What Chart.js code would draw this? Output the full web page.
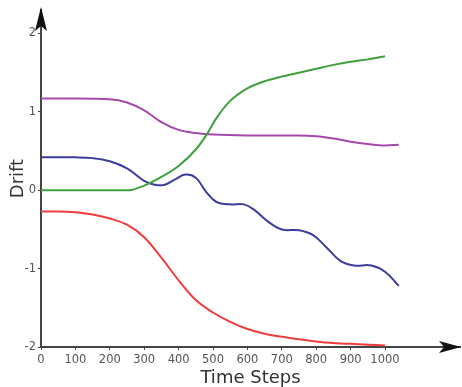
<!DOCTYPE html>
<html>
<head>
<meta charset="utf-8">
<script src="https://cdn.jsdelivr.net/npm/chart.js@4"></script>
<style>
html,body{margin:0;padding:0;background:#fff;}
#wrap{width:462px;height:387px;}
</style>
</head>
<body>
<div id="wrap"><canvas id="c" width="462" height="387"></canvas></div>
<script>
// ---- data ----
const xTicks = [0,100,200,300,400,500,600,700,800,900,1000];
const yTicks = [-2,-1,0,1,2];

const greenX = [0,100,200,255,300,350,400,450,480,510,550,600,650,700,750,800,850,900,950,1000];
const greenY = [0,0,0,0,0.06,0.17,0.31,0.52,0.70,0.92,1.14,1.30,1.39,1.45,1.50,1.55,1.60,1.64,1.67,1.71];

const purpleX = [0,100,200,250,300,350,400,450,500,600,700,750,800,850,900,950,1000,1040];
const purpleY = [1.17,1.17,1.16,1.12,1.02,0.87,0.77,0.73,0.71,0.70,0.70,0.70,0.69,0.66,0.62,0.59,0.57,0.58];

const blueX = [0,100,150,200,250,300,330,360,390,420,450,480,510,550,590,620,660,700,750,790,830,870,910,960,1000,1040];
const blueY = [0.42,0.42,0.41,0.37,0.28,0.12,0.07,0.07,0.14,0.20,0.16,-0.02,-0.15,-0.18,-0.18,-0.25,-0.40,-0.50,-0.51,-0.57,-0.73,-0.90,-0.96,-0.96,-1.04,-1.22];

const redX = [0,50,100,150,200,250,300,350,400,450,500,550,600,650,700,750,800,850,900,950,1000];
const redY = [-0.27,-0.27,-0.28,-0.31,-0.36,-0.44,-0.60,-0.86,-1.15,-1.40,-1.56,-1.68,-1.77,-1.83,-1.87,-1.90,-1.93,-1.95,-1.96,-1.97,-1.98];

function pts(xs, ys){ return xs.map((x,i)=>({x:x, y:ys[i]})); }

const axisColor = '#444';

const arrowPlugin = {
  id:'arrows',
  afterDraw(chart){
    const ctx = chart.ctx;
    const a = chart.chartArea;
    ctx.save();
    ctx.fillStyle = '#111';
    const xl = a.left, ty = 7;
    ctx.beginPath();
    ctx.moveTo(xl, ty);
    ctx.lineTo(xl+6, ty+24);
    ctx.lineTo(xl, ty+19);
    ctx.lineTo(xl-6, ty+24);
    ctx.closePath();
    ctx.fill();
    const yb = a.bottom, tx = 461;
    ctx.beginPath();
    ctx.moveTo(tx, yb);
    ctx.lineTo(tx-22, yb-6);
    ctx.lineTo(tx-17, yb);
    ctx.lineTo(tx-22, yb+6);
    ctx.closePath();
    ctx.fill();
    ctx.restore();
  }
};

const ds = (label, xs, ys, color, mono) => ({
  label, data: pts(xs, ys), borderColor: color, backgroundColor: color,
  borderWidth: 2, pointRadius: 0, fill:false,
  cubicInterpolationMode: mono ? 'monotone' : 'default', tension: 0.4
});

new Chart(document.getElementById('c'), {
  type: 'line',
  data: {
    datasets: [
      ds('green', greenX, greenY, '#3f9f3f', true),
      ds('purple', purpleX, purpleY, '#a54aab', true),
      ds('blue', blueX, blueY, '#3d3d9e', false),
      ds('red', redX, redY, '#f03c3c', true)
    ]
  },
  options: {
    responsive: false,
    animation: false,
    layout: { padding: { top: 10, right: 2, left: 0, bottom: 0 } },
    plugins: { legend: { display: false }, tooltip: { enabled: false } },
    scales: {
      x: {
        type: 'linear', min: 0, max: 1218,
        afterFit(s){ s.height = 40; },
        afterBuildTicks(s){ s.ticks = xTicks.map(v=>({value:v})); },
        grid: { display: true, drawOnChartArea: false, drawTicks: true, tickLength: 3, color: axisColor },
        border: { display: true, color: axisColor, width: 2 },
        ticks: { color: '#555', padding: 3, maxRotation: 0, autoSkip: false,
                 callback: v => String(v),
                 font: { family: 'DejaVu Sans', size: 11.5 } },
        title: { display: true, text: 'Time Steps', color: '#333',
                 font: { family: 'DejaVu Sans', size: 18, lineHeight: 1 },
                 padding: { top: 0, bottom: 0 } }
      },
      y: {
        type: 'linear', min: -2, max: 2.3,
        afterFit(s){ s.width = 41; },
        afterBuildTicks(s){ s.ticks = yTicks.map(v=>({value:v})); },
        grid: { display: true, drawOnChartArea: false, drawTicks: true, tickLength: 3, color: axisColor },
        border: { display: true, color: axisColor, width: 2 },
        ticks: { color: '#555', padding: 2, autoSkip: false,
                 callback: v => String(v),
                 font: { family: 'DejaVu Sans', size: 11.5 } },
        title: { display: true, text: 'Drift', color: '#333',
                 font: { family: 'DejaVu Sans', size: 18, lineHeight: 1 },
                 padding: { top: 9, bottom: 0 } }
      }
    }
  },
  plugins: [arrowPlugin]
});
</script>
</body>
</html>
